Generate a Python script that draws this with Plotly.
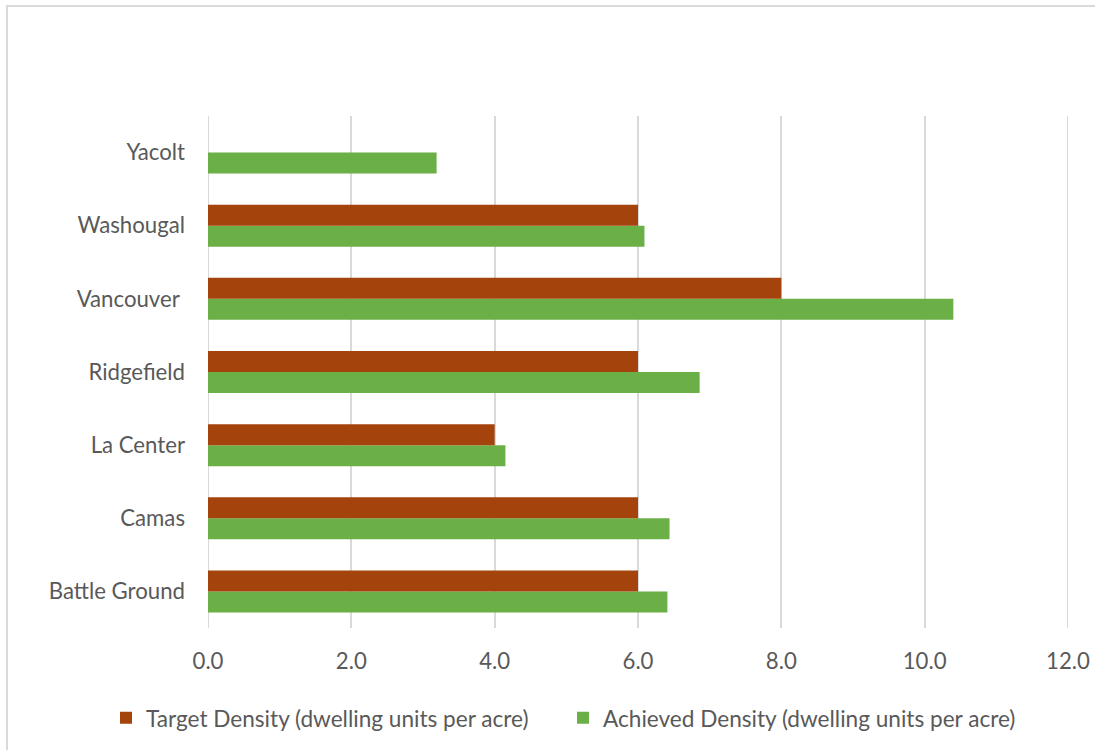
import plotly.graph_objects as go

cities = ["Battle Ground", "Camas", "La Center", "Ridgefield", "Vancouver ", "Washougal", "Yacolt"]
target = [6.0, 6.0, 4.0, 6.0, 8.0, 6.0, None]
achieved = [6.41, 6.44, 4.15, 6.86, 10.40, 6.09, 3.19]
x_ticks = [0, 2, 4, 6, 8, 10, 12]
x_tick_text = ["0.0", "2.0", "4.0", "6.0", "8.0", "10.0", "12.0"]

W, H = 1095, 750
ML, MR, MT, MB = 208, 27, 116, 122
PW, PH = W - ML - MR, H - MT - MB

FONT = "Lato"
TXT = "#595959"
GRID = "#D9D9D9"
FS = 22.2
LFS = 22.6

fig = go.Figure()
fig.add_trace(go.Bar(
    y=cities, x=achieved, orientation="h",
    name="Achieved Density (dwelling units per acre)",
    marker=dict(color="#6BAF47", line=dict(width=0)),
    legend="legend2",
))
fig.add_trace(go.Bar(
    y=cities, x=target, orientation="h",
    name="Target Density (dwelling units per acre)",
    marker=dict(color="#A4430C", line=dict(width=0)),
    legend="legend",
))

def px_x(p):
    return (p - ML) / PW

def px_y(p):
    return (H - MB - p) / PH

# outer chart-area border
fig.add_shape(type="rect", xref="paper", yref="paper",
              x0=px_x(7), x1=px_x(W + 20), y0=px_y(H + 20), y1=px_y(6),
              line=dict(color=GRID, width=2), fillcolor="rgba(0,0,0,0)", layer="below")

# gridlines at the range edges (plotly omits them)
for v in (x_ticks[0], x_ticks[-1]):
    fig.add_shape(type="line", xref="x", yref="paper", x0=v, x1=v, y0=0, y1=1,
                  line=dict(color=GRID, width=2), layer="below")

legend_common = dict(orientation="h", xref="container", xanchor="left",
                     y=(H - 718) / H, yref="container", yanchor="middle",
                     font=dict(family=FONT, size=LFS, color=TXT),
                     itemwidth=30, bgcolor="rgba(0,0,0,0)")

fig.update_layout(
    width=W, height=H,
    margin=dict(l=ML, r=MR, t=MT, b=MB, autoexpand=False),
    paper_bgcolor="white", plot_bgcolor="white",
    barmode="group", bargap=0.426, bargroupgap=0,
    font=dict(family=FONT, color=TXT, size=FS),
    showlegend=True,
    legend=dict(x=(120 - 14) / W, **legend_common),
    legend2=dict(x=(577 - 14) / W, **legend_common),
    xaxis=dict(range=[0, 12], tickvals=x_ticks, ticktext=x_tick_text,
               showgrid=True, gridcolor=GRID, gridwidth=2,
               zeroline=False, showline=False, ticks="",
               ticklabelstandoff=18,
               tickfont=dict(family=FONT, size=FS, color=TXT), fixedrange=True),
    yaxis=dict(showgrid=False, zeroline=False, showline=False, ticks="",
               ticklabelstandoff=22,
               tickfont=dict(family=FONT, size=FS, color=TXT), fixedrange=True),
)

fig.write_html("out.html")
